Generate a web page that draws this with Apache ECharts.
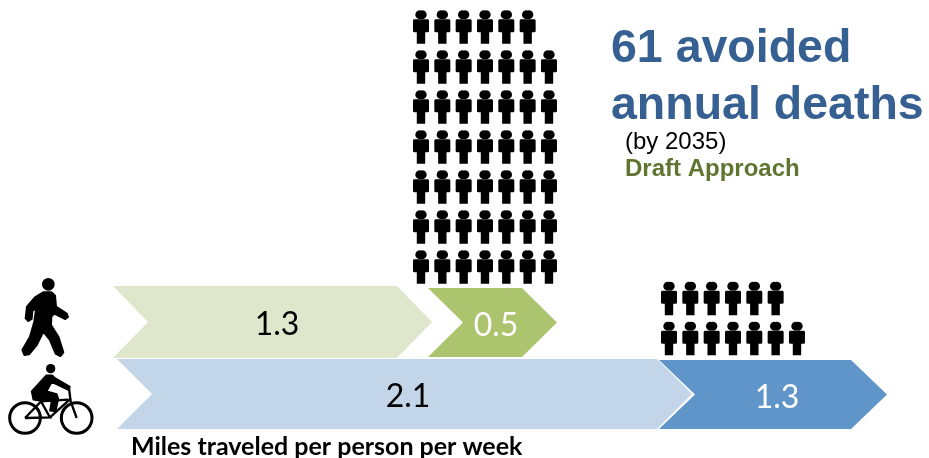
<!DOCTYPE html>
<html>
<head>
<meta charset="utf-8">
<style>html,body{margin:0;padding:0;background:#fff}#c{width:929px;height:458px}</style>
<script src="https://cdn.jsdelivr.net/npm/echarts@6/dist/echarts.min.js"></script>
</head>
<body>
<div id="c"></div>
<script>
// --- values ---
const modes = ['Walking', 'Biking'];
const walkingMiles = ['1.3', '0.5'];
const bikingMiles = ['2.1', '1.3'];
const walkingPeopleRows = [6, 7, 7, 7, 7, 7, 7];   // 48 people
const bikingPeopleRows = [6, 7];                   // 13 people
const headline = ['61 avoided', 'annual deaths'];
const subhead = '(by 2035)';
const approach = 'Draft Approach';
const axisCaption = 'Miles traveled per person per week';

// --- layout (hidden pixel-unit axes) ---
const chevronLayout = [
  {row: 0, seg: 0, left: 113, tip: 432, mid: 322, half: 36, notch: 35, labelX: 277, fill: '#DEE7CB', text: '#000000'},
  {row: 0, seg: 1, left: 428, tip: 557, mid: 322.5, half: 34.5, notch: 35, labelX: 496, fill: '#ADC46E', text: '#FFFFFF'},
  {row: 1, seg: 0, left: 117, tip: 692, mid: 394, half: 35, notch: 35, labelX: 408, fill: '#C3D5E8', text: '#000000'},
  {row: 1, seg: 1, left: 659, tip: 887, mid: 394.5, half: 34.5, notch: 36, labelX: 777, fill: '#5F95C8', text: '#FFFFFF'}
];
const peopleBlocks = [
  {rows: walkingPeopleRows, x0: 421, dx: 21.33, y0: 27, dy: 40},
  {rows: bikingPeopleRows, x0: 669, dx: 21.33, y0: 298.5, dy: 40}
];
const personPath = 'path://M8 0A4.4 4.4 0 1 1 8 8.4A4.4 4.4 0 1 1 8 0ZM1.5 8.8H14.5Q16 8.8 16 10.2V20.5Q16 21.8 14.5 21.8H12.2V33.3H3.8V21.8H1.5Q0 21.8 0 20.5V10.2Q0 8.8 1.5 8.8Z';

const milesByRow = [walkingMiles, bikingMiles];
const chevronData = chevronLayout.map(s => ({
  name: modes[s.row],
  value: [s.left, s.tip, s.mid, s.half, s.notch, s.labelX],
  fill: s.fill, textColor: s.text, label: milesByRow[s.row][s.seg]
}));
const peopleData = [];
peopleBlocks.forEach(b => b.rows.forEach((n, r) => {
  for (let i = 0; i < n; i++) peopleData.push([b.x0 + i * b.dx, b.y0 + r * b.dy]);
}));

function renderChevron(params, api) {
  const d = chevronData[params.dataIndex];
  const l = api.value(0), t = api.value(1), m = api.value(2), h = api.value(3), n = api.value(4);
  const pts = [[l, m - h], [t - n, m - h], [t, m], [t - n, m + h], [l, m + h], [l + n, m]].map(p => api.coord(p));
  const c = api.coord([api.value(5), m]);
  return {
    type: 'group',
    children: [
      {type: 'polygon', shape: {points: pts}, style: {fill: d.fill}},
      {type: 'text', x: c[0], y: c[1] + 3, style: {text: d.label, fill: d.textColor, font: '32px Lato', textAlign: 'center', textVerticalAlign: 'middle'}}
    ]
  };
}

const chart = echarts.init(document.getElementById('c'), null, {renderer: 'canvas'});
const walkerBody = [[85,52],[110,52],[120,62],[123,95],[155,116],[159,126],[151,132],[118,116],[109,125],[108,150],[130,185],[145,232],[136,243],[122,236],[105,195],[85,170],[65,210],[42,238],[28,240],[22,225],[45,185],[58,140],[64,98],[52,108],[50,132],[40,138],[32,130],[36,95],[60,67]];
const bikeRider = [[124,52],[142,52],[150,60],[195,86],[190,96],[140,72],[125,100],[155,108],[160,122],[152,160],[135,158],[140,128],[105,128],[85,125],[80,100]];
const bikeFrame = [
  [[60,180],[108,130],[135,178],[60,180]],
  [[192,90],[197,130],[215,180]],
  [[197,122],[135,178]],
  [[108,130],[190,125]]
];
function blackCircle(cx, cy, r) {
  return {type: 'circle', shape: {cx: cx, cy: cy, r: r}, style: {fill: '#000'}, silent: true};
}
function ring(cx, cy, r) {
  return {type: 'circle', shape: {cx: cx, cy: cy, r: r}, style: {fill: 'none', stroke: '#000', lineWidth: 9}, silent: true};
}
function txt(x, y, text, font, fill) {
  return {type: 'text', x: x, y: y, silent: true, style: {text: text, font: font, fill: fill, textVerticalAlign: 'bottom'}};
}
chart.setOption({
  animation: false,
  backgroundColor: '#ffffff',
  grid: {left: 0, top: 0, width: 929, height: 458, containLabel: false},
  xAxis: {type: 'value', min: 0, max: 929, show: false},
  yAxis: {type: 'value', min: 0, max: 458, inverse: true, show: false},
  series: [
    {type: 'custom', silent: true, renderItem: renderChevron, data: chevronData, clip: false},
    {type: 'scatter', silent: true, symbol: personPath, symbolSize: [16, 33.3], symbolKeepAspect: false,
     itemStyle: {color: '#000', opacity: 1}, data: peopleData}
  ],
  graphic: {elements: [
    {type: 'group', x: 15, y: 275, scaleX: 1 / 3, scaleY: 1 / 3, silent: true, children: [
      blackCircle(100, 28, 19),
      {type: 'polygon', shape: {points: walkerBody}, style: {fill: '#000', stroke: '#000', lineWidth: 6, lineJoin: 'round'}, silent: true}
    ]},
    {type: 'group', x: 5, y: 358, scaleX: 1 / 3, scaleY: 1 / 3, silent: true, children: [
      blackCircle(137, 32, 14),
      ring(60, 180, 46), ring(215, 180, 46),
      {type: 'polygon', shape: {points: bikeRider}, style: {fill: '#000', stroke: '#000', lineWidth: 5, lineJoin: 'round'}, silent: true}
    ].concat(bikeFrame.map(p => ({type: 'polyline', shape: {points: p}, style: {fill: 'none', stroke: '#000', lineWidth: 7}, silent: true})))},
    txt(611, 73, headline[0], 'bold 46.5px "Liberation Sans"', '#366092'),
    txt(611, 129.5, headline[1], 'bold 46.5px "Liberation Sans"', '#366092'),
    txt(625, 154, subhead, '24px "Liberation Sans"', '#000000'),
    txt(625, 181.5, approach, 'bold 24px "Liberation Sans"', '#5F7530'),
    txt(131, 459, axisCaption, 'bold 25px Lato', '#000000')
  ]}
});
</script>
</body>
</html>
